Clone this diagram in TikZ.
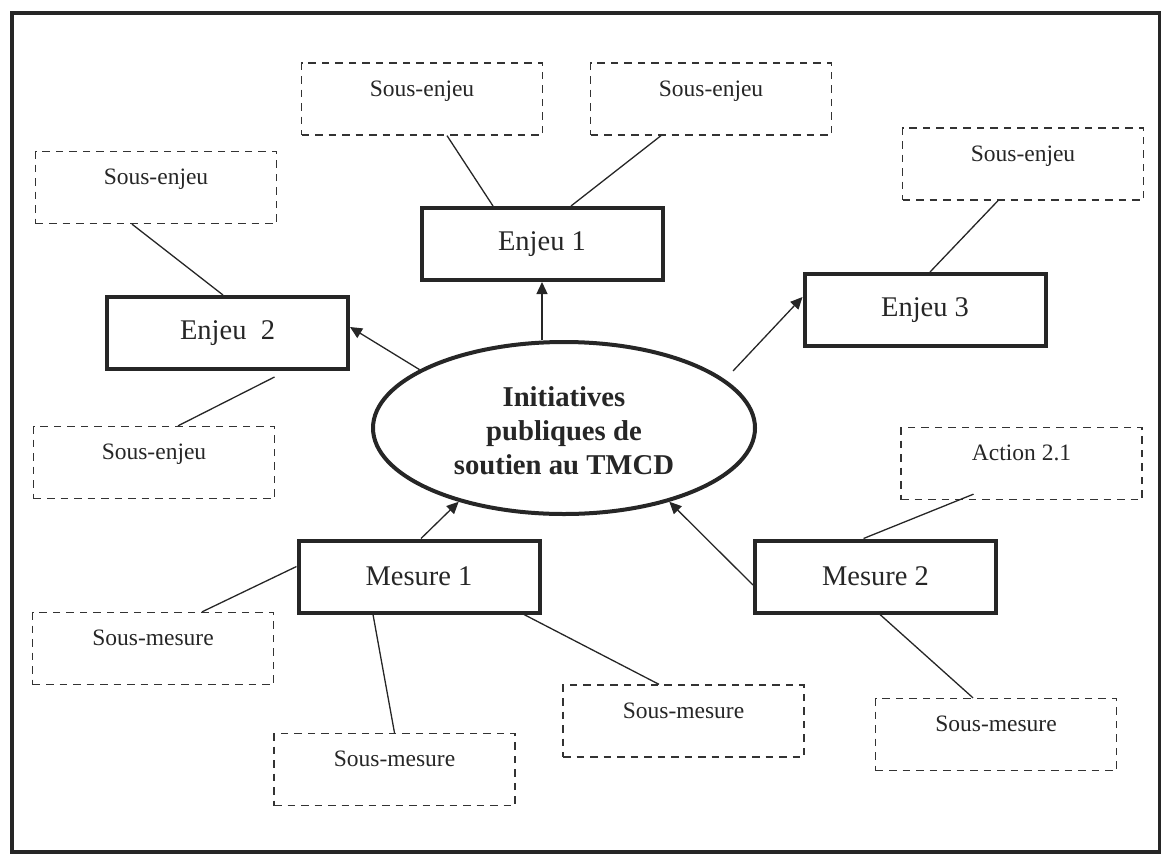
\documentclass[tikz,border=0pt]{standalone}
\usepackage{fontspec}
\setmainfont{Liberation Serif}
\usetikzlibrary{shapes.geometric,arrows.meta}

\begin{document}
\begin{tikzpicture}[x=1pt,y=-1pt,
  subbox/.style={draw=black!80, line width=1.3pt, dash pattern=on 7.5pt off 6pt,
    minimum width=241pt, inner sep=0pt, text height=33pt, text depth=39pt,
    font=\fontsize{23.5}{28}\selectfont, text=black!85},
  mainbox/.style={draw=black!85, line width=4pt, minimum width=241pt, minimum height=72pt,
    inner sep=0pt, font=\fontsize{28.5}{34}\selectfont, text=black!85},
  hub/.style={ellipse, draw=black!85, line width=4pt, minimum width=382pt, minimum height=172pt,
    inner sep=0pt, text=black!85,
    font=\bfseries\fontsize{28.7}{34}\selectfont},
  link/.style={draw=black!85, line width=1.3pt},
  feed/.style={link, -{Triangle[length=12pt,width=11pt]}}
]
\useasboundingbox (0,0) rectangle (1161,854);
\draw[black!85, line width=3.5pt] (12,13) rectangle (1160,852);

% central initiative
\node[hub] (C) at (564,428) {\raisebox{-6pt}[\height][\depth]{\begin{tabular}{@{}c@{}}Initiatives\\publiques de\\soutien au TMCD\end{tabular}}};

% stakes and measures
\node[mainbox] (E1) at (542,244) {Enjeu 1};
\node[mainbox] (E2) at (227.5,333) {Enjeu~~2};
\node[mainbox] (E3) at (925,310) {Enjeu 3};
\node[mainbox] (M1) at (419,576.5) {Mesure 1};
\node[mainbox] (M2) at (875.5,576.5) {Mesure 2};

% sub-stakes, sub-measures and action
\node[subbox] (SA) at (422,99) {Sous-enjeu};
\node[subbox] (SB) at (711,99) {Sous-enjeu};
\node[subbox] (SC) at (156,187.5) {Sous-enjeu};
\node[subbox] (SD) at (1023,164) {Sous-enjeu};
\node[subbox] (SE) at (154,462.5) {Sous-enjeu};
\node[subbox] (AC) at (1021.5,463.5) {Action 2.1};
\node[subbox] (SM1) at (153,648.5) {Sous-mesure};
\node[subbox] (SM2) at (394.5,769.5) {Sous-mesure};
\node[subbox] (SM3) at (683.5,721) {Sous-mesure};
\node[subbox] (SM4) at (996,734.5) {Sous-mesure};

% arrows between the initiative and the stakes / measures
\draw[feed] ([xshift=-22pt]C.north) -- (E1.south);
\draw[feed] (C.158) -- ([yshift=6pt]E2.east);
\draw[feed] ([xshift=15pt,yshift=4pt]C.19) -- ([yshift=13pt]E3.west);
\draw[feed] ([xshift=2pt]M1.north) -- (C.215);
\draw[feed] ([yshift=-8.5pt]M2.west) -- (C.325);

% plain links to the dashed boxes
\draw[link] ([xshift=25pt]SA.south) -- ([xshift=-49pt]E1.north);
\draw[link] ([xshift=-50pt]SB.south) -- ([xshift=29pt]E1.north);
\draw[link] ([xshift=-24pt]SC.south) -- ([xshift=-4.5pt]E2.north);
\draw[link] ([xshift=47pt,yshift=-6pt]E2.south) -- ([xshift=24pt]SE.north);
\draw[link] ([xshift=-25pt]SD.south) -- ([xshift=5pt]E3.north);
\draw[link] ([xshift=-48pt,yshift=6pt]AC.south) -- ([xshift=-12pt]M2.north);
\draw[link] ([xshift=4.5pt]M2.south) -- ([xshift=-23pt]SM4.north);
\draw[link] ([yshift=10pt]M1.west) -- ([xshift=49pt]SM1.north);
\draw[link] ([xshift=-46pt]M1.south) -- (SM2.north);
\draw[link] ([xshift=105pt]M1.south) -- ([xshift=-24.5pt]SM3.north);
\end{tikzpicture}
\end{document}
